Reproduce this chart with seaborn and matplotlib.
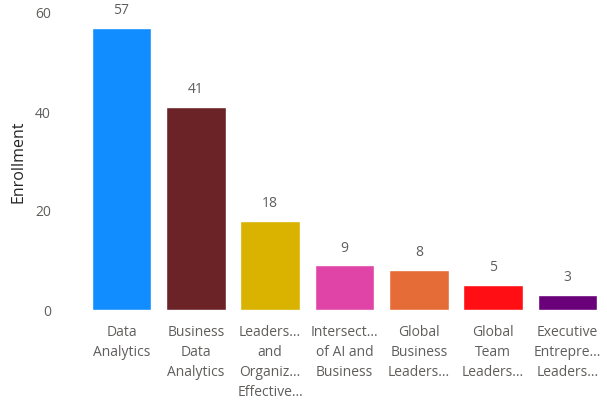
import numpy as np
import pandas as pd
import matplotlib
matplotlib.use("Agg")
import matplotlib.pyplot as plt
import seaborn as sns

# data
courses = ["Data\nAnalytics",
           "Business\nData\nAnalytics",
           "Leaders...\nand\nOrganiz...\nEffective...",
           "Intersect...\nof AI and\nBusiness",
           "Global\nBusiness\nLeaders...",
           "Global\nTeam\nLeaders...",
           "Executive\nEntrepre...\nLeaders..."]
enrollment = [57, 41, 18, 9, 8, 5, 3]
bar_colors = ["#118DFF", "#6B2328", "#D9B300", "#E044A7", "#E66C37", "#FF0F14", "#6B007B"]

df = pd.DataFrame({"course": courses, "enrollment": enrollment})

sns.set_theme(style="white")
plt.rcParams['font.family'] = ['Open Sans', 'DejaVu Sans']

fig = plt.figure(figsize=(6.07, 4.04), dpi=100)
ax = fig.add_axes([84.3 / 607, 1 - 310 / 404, (604.7 - 84.3) / 607, 297 / 404])

sns.barplot(data=df, x="course", y="enrollment", hue="course", palette=bar_colors,
            legend=False, width=0.8, saturation=1, ax=ax)

for i, v in enumerate(enrollment):
    ax.text(i, v + 2.0, str(v), ha="center", va="bottom", fontsize=10, color="#605E5C")

ax.set_ylim(0, 60)
ax.set_xlim(-0.5, len(courses) - 0.5)
ax.set_yticks([0, 20, 40, 60])
ax.tick_params(axis="y", colors="#605E5C", labelsize=10, length=0, pad=24)
ax.tick_params(axis="x", colors="#605E5C", labelsize=10, length=0, pad=11)
for lbl in ax.get_xticklabels():
    lbl.set_linespacing(1.45)
    lbl.set_va("top")
ax.set_xlabel("")
ax.set_ylabel("Enrollment", fontsize=11.5, color="#252423", labelpad=6)
sns.despine(ax=ax, left=True, bottom=True)

fig.savefig("out.png", dpi=100)
